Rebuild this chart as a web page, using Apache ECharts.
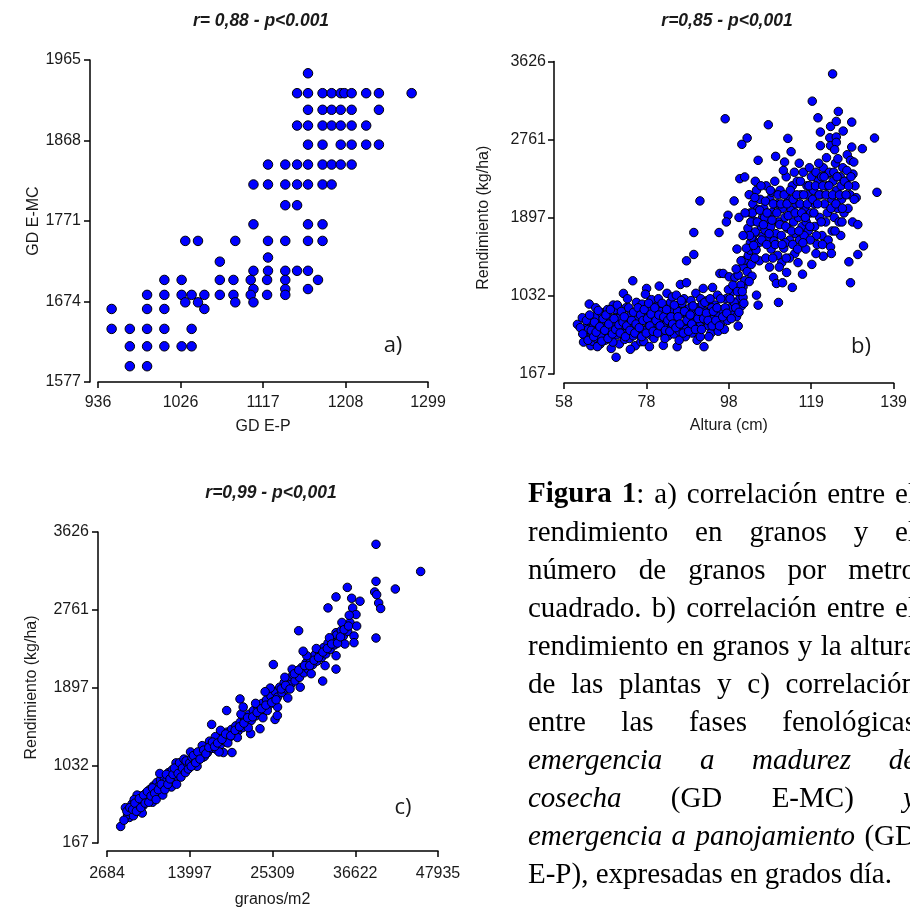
<!DOCTYPE html>
<html><head><meta charset="utf-8">
<script src="https://cdn.jsdelivr.net/npm/echarts@6/dist/echarts.min.js"></script>
<style>html,body{margin:0;padding:0;background:#fff;overflow:hidden}#c{width:910px;height:909px}</style>
</head><body><div id="c"></div>
<script>
// ---------- data ----------
const aTitle = 'r= 0,88 - p<0.001';
const bTitle = 'r=0,85 - p<0,001';
const cTitle = 'r=0,99 - p<0,001';
const aXTicks = [936, 1026, 1117, 1208, 1299];
const aYTicks = [1577, 1674, 1771, 1868, 1965];
const bXTicks = [58, 78, 98, 119, 139];
const bYTicks = [167, 1032, 1897, 2761, 3626];
const cXTicks = [2684, 13997, 25309, 36622, 47935];
const cYTicks = [167, 1032, 1897, 2761, 3626];
const aXName = 'GD E-P', aYName = 'GD E-MC';
const bXName = 'Altura (cm)', bYName = 'Rendimiento (kg/ha)';
const cXName = 'granos/m2', cYName = 'Rendimiento (kg/ha)';
const panelTags = ['a)', 'b)', 'c)'];

const aData = [
[1167,1949],
[1155,1925],[1167,1925],[1183,1925],[1193,1925],[1203,1925],[1207,1925],[1215,1925],[1231,1925],[1245,1925],[1281,1925],
[1167,1905],[1183,1905],[1193,1905],[1203,1905],[1215,1905],[1245,1905],
[1155,1886],[1167,1886],[1183,1886],[1193,1886],[1203,1886],[1215,1886],[1231,1886],
[1167,1863],[1183,1863],[1203,1863],[1215,1863],[1231,1863],[1245,1863],
[1123,1839],[1142,1839],[1155,1839],[1167,1839],[1183,1839],[1193,1839],[1203,1839],[1215,1839],
[1107,1815],[1123,1815],[1142,1815],[1155,1815],[1167,1815],[1183,1815],[1193,1815],
[1142,1790],[1155,1790],
[1107,1767],[1167,1767],[1183,1767],
[1032,1747],[1046,1747],[1087,1747],[1123,1747],[1142,1747],[1167,1747],[1183,1747],
[1123,1727],
[1070,1722],
[1107,1711],[1123,1711],[1142,1711],[1155,1711],[1167,1711],
[1009,1700],[1028,1700],[1070,1700],[1085,1700],[1104,1700],[1122,1700],[1142,1700],[1178,1700],
[1107,1689],[1142,1689],[1167,1689],
[990,1682],[1009,1682],[1028,1682],[1039,1682],[1053,1682],[1070,1682],[1085,1682],[1104,1682],[1122,1682],[1142,1682],
[1032,1673],[1046,1673],[1087,1673],[1107,1673],
[951,1665],[990,1665],[1009,1665],[1053,1665],
[951,1641],[971,1641],[990,1641],[1009,1641],[1039,1641],
[971,1620],[990,1620],[1009,1620],[1028,1620],[1039,1620],
[971,1596],[990,1596]
];

const bData = [
[61.3,716],[62.5,790],[63.0,640],[63.4,560],[63.8,700],[64.2,941],[64.4,620],[64.6,480],[64.8,750],[65.0,530],[63.2,600],[64.0,660],[65.2,690],[62.8,520],[64.9,590],
[65.6,800],[66.0,560],[66.3,650],[66.6,720],[66.9,500],[67.2,845],[67.5,610],[67.8,760],[68.1,540],[68.4,680],[68.7,880],[66.2,470],[67.0,580],[68.9,620],[65.8,900],[67.7,700],
[69.2,790],[69.5,560],[69.8,660],[70.1,930],[70.4,720],[70.8,352],[71.0,600],[71.3,840],[71.6,500],[71.9,760],[72.2,680],[72.6,1059],[72.9,550],[70.6,880],[69.6,450],[72.4,620],[71.2,780],[70.0,520],
[73.2,900],[73.5,640],[73.8,760],[74.1,560],[74.5,830],[74.9,1199],[75.2,700],[75.5,480],[75.8,960],[76.1,610],[76.4,870],[76.7,740],[73.6,1000],[74.3,440],[75.0,590],[76.0,800],[74.7,680],[76.9,525],
[77.2,940],[77.6,525],[77.9,800],[78.3,1114],[78.6,680],[78.9,870],[79.2,600],[79.5,990],[79.8,740],[80.1,560],[80.4,850],[80.7,700],[78.0,1050],[79.0,470],[80.9,920],[77.5,650],[79.6,780],[80.2,640],
[81.2,1000],[81.4,1140],[81.7,780],[82.0,630],[82.4,484],[82.7,900],[83.0,720],[83.3,1060],[83.6,590],[83.9,820],[84.2,960],[84.5,680],[84.8,880],[81.9,860],[82.8,560],[83.8,750],[84.6,1020],[85.0,610],
[85.3,760],[85.8,469],[86.1,920],[86.4,640],[86.6,1158],[86.9,840],[87.2,700],[87.5,1000],[87.8,580],[88.1,1177],[88.4,800],[88.7,890],[85.6,1040],[86.3,540],[87.0,950],[88.0,660],[88.9,740],[85.9,860],
[89.2,980],[89.5,620],[89.8,860],[90.1,740],[90.4,1060],[90.7,540],[91.0,900],[91.3,700],[91.6,1000],[91.9,800],[92.2,1114],[92.4,469],[92.7,860],[89.9,680],[90.6,820],[91.5,580],[92.0,940],[92.9,760],
[93.2,980],[93.5,700],[93.8,860],[94.1,620],[94.5,1125],[94.8,780],[95.1,930],[95.4,680],[95.7,1040],[96.0,820],[96.3,1280],[96.6,740],[97.1,1280],[93.6,580],[94.3,900],[95.9,640],[96.8,880],[97.4,661],
[97.8,1000],[98.2,760],[98.6,1243],[98.9,900],[99.3,1080],[99.6,820],[100.0,1235],[100.4,801],[100.8,1261],[100.8,698],[101.2,1000],[101.6,920],[102.0,1015],[102.0,1133],[102.4,1200],[98.4,1100],[99.8,960],[101.4,1150],
[62.0,680],[62.6,610],[63.5,760],[63.9,540],[64.3,820],[64.7,650],[65.3,580],[65.5,740],[65.9,630],[66.4,870],[66.8,690],[67.3,530],[67.6,780],[68.0,650],[68.3,820],[68.8,560],[69.0,720],[69.4,880],[69.9,610],[70.3,780],[70.7,660],[71.1,930],[71.5,710],[71.8,620],[72.1,860],[72.5,740],[72.8,800],[73.1,580],[73.4,700],[73.9,900],[74.2,650],[74.6,760],[75.1,850],[75.4,620],[75.7,720],[76.2,900],[76.5,680],[76.8,820],[77.1,580],[77.4,760],[77.7,880],[78.2,620],[78.5,780],[78.8,950],[79.1,700],[79.4,830],[79.9,640],[80.3,900],[80.6,760],[81.0,620],[81.3,820],[81.6,700],[82.1,950],[82.5,800],[82.9,650],[83.2,880],[83.5,760],[84.0,640],[84.3,800],[84.7,720],[85.1,930],[85.5,680],[86.0,800],[86.5,720],[86.8,980],[87.3,620],[87.6,860],[88.2,760],[88.6,640],[89.0,820],[89.4,720],[89.7,920],[90.3,660],[90.9,780],[91.2,860],[91.8,660],[92.3,780],[92.6,960],[93.0,840],[93.4,760],[93.9,1000],[94.4,700],[94.7,860],[95.3,760],[95.6,900],[96.2,700],[96.5,1000],[97.0,800],[97.6,900],[98.0,840],[98.8,1000],[99.1,780],[99.5,1150],[100.2,900],[100.6,1080],[101.0,850],[101.8,1080],[102.2,950],
[102.0,1353],[102.4,1427],[103.0,1300],[103.3,1480],[103.7,1538],[104.0,1380],[104.5,1648],[104.2,1250],[105.0,1560],[103.5,1190],[105.3,1040],[105.7,929],[104.8,1720],[103.8,1620],[102.8,1560],[101.5,1420],[100.3,1330],
[103.2,1780],[103.5,2152],[103.8,1950],[104.1,1680],[104.4,2050],[104.7,1860],[105.0,1740],[105.3,2200],[105.6,1990],[105.9,1620],[106.2,2100],[106.5,1800],[106.8,1900],[103.9,1850],[105.2,1540],[106.0,1420],[104.6,1590],[106.9,1700],
[107.1,2000],[107.4,1760],[107.7,2250],[108.0,1650],[108.2,2926],[108.3,1880],[108.6,2100],[108.9,1550],[109.2,1960],[109.5,1235],[109.8,2300],[110.0,2576],[110.2,1169],[110.1,1720],[110.4,2050],[110.7,959],[110.8,1850],[107.6,1450],[108.5,1350],[109.0,2180],[109.6,1640],[110.5,1480],[107.3,1900],[108.8,1800],
[111.1,2200],[111.4,1700],[111.7,1177],[111.7,2000],[112.0,1560],[112.2,2513],[112.3,1900],[112.6,2350],[112.7,1291],[112.9,1780],[113.0,2775],[113.2,2100],[113.5,1650],[113.8,2628],[113.8,1980],[114.1,1125],[114.1,2250],[114.4,1850],[114.7,1500],[115.0,2050],[111.5,1400],[112.4,1620],[113.4,1450],[114.9,1720],[111.9,2420],[114.6,2400],
[115.3,2300],[115.6,1900],[115.9,1650],[116.2,2150],[116.5,1800],[116.6,1272],[116.8,2400],[117.1,2000],[117.4,1550],[117.7,2250],[118.0,1750],[118.3,2450],[118.6,1950],[118.9,1380],[115.5,1400],[116.0,2050],[117.0,1700],[117.9,2150],[118.8,2350],[115.8,2500],[117.5,1850],[119.0,3187],
[119.3,2200],[119.6,1800],[119.9,2400],[120.2,1600],[120.4,3003],[120.5,2300],[120.8,1900],[121.0,2845],[121.0,2694],[121.1,2150],[121.4,1700],[121.7,1471],[121.7,2450],[122.0,2050],[122.3,1850],[122.5,2561],[122.6,2250],[122.9,1650],[119.5,2050],[120.0,1700],[121.3,2350],[122.8,2380],[120.6,2500],
[123.2,2400],[123.3,2782],[123.5,1574],[123.5,2694],[123.5,2907],[123.7,1501],[123.8,2100],[124.0,3489],[124.1,2300],[124.4,1900],[124.7,2500],[124.9,2963],[124.9,2790],[124.9,2731],[125.0,2200],[125.3,2550],[125.4,3073],[125.6,1850],[125.9,2350],[126.2,2100],[126.6,2856],[126.5,2450],[126.8,1950],[123.9,1750],[125.2,2000],[126.0,1700],[124.5,2650],
[127.2,2300],[127.6,2594],[127.8,2000],[128.0,1409],[128.4,2532],[128.4,1177],[128.7,2955],[128.7,2679],[128.3,2150],[128.9,1850],[129.2,2513],[129.5,2250],[129.8,2119],[130.2,1821],[130.2,1490],[131.3,2661],[131.6,1585],[134.3,2779],[134.9,2178],[129.0,2380],[127.5,2420],
[104.3,1950],[104.9,2120],[105.5,1850],[106.1,1980],[106.6,1650],[107.0,1820],[107.5,2080],[107.9,1950],[108.4,1720],[108.7,2200],[109.1,1870],[109.4,2050],[109.9,1600],[110.3,1950],[110.6,2150],[111.0,1820],[111.3,2050],[111.6,1600],[112.1,2150],[112.5,1800],[112.8,2050],[113.1,1920],[113.6,2200],[113.9,1750],[114.3,2100],[114.8,1950],[115.2,2150],[115.7,1750],[116.1,2300],[116.4,1950],[116.9,2150],[117.3,1900],[117.8,2050],[118.2,2250],[118.5,1650],[119.1,2100],[119.4,1950],[119.8,2250],[120.3,2050],[120.7,2150],[121.2,1850],[121.6,2250],[121.9,2350],[122.4,2150],[122.7,1950],[123.1,2250],[123.6,2000],[124.0,2150],[124.3,2400],[124.8,2050],[125.1,2350],[125.7,2150],[126.1,2250],[126.4,2000],[126.9,2300],[127.3,2150],[127.9,2250],[128.5,2350],[129.3,2100],[105.0,2300],[106.4,2250],[107.8,1600],[109.3,1450],[110.9,1350],[112.6,1450],[114.2,1600],[115.4,1550],[116.7,1620],[118.4,1800],[119.9,1500],[121.5,1600],[124.6,1750],[126.3,1850],[103.6,1700],[104.9,1450],
[97.6,2992],[91.4,2083],[89.9,1733],[89.9,1490],[88.1,1420],[96.1,1733],[99.8,2083],[98.3,1924],[97.9,1850],[101.2,2329],[102.4,2348],[101.7,2709],[103.0,2779],[105.7,2532],[101.0,1900],[100.5,1550],[102.0,1700],[102.5,1950]
];

const cData = [
[4553,351],[5737,451],[5500,480],[6000,520],[6300,470],[6100,600],[6600,560],[6900,640],[7000,520],[7200,600],[7400,690],[7600,580],[7800,650],[8000,720],[8100,620],[8300,690],[8500,760],[8600,650],[8800,720],[9000,800],[9100,690],[9300,760],[9500,840],[9600,720],[9800,800],[10000,870],[10200,760],[10400,830],[10500,900],[10700,800],[10900,870],[11100,950],[11200,830],[11400,910],[11600,980],[11800,880],[12000,950],[12117,1058],[12300,900],[12500,990],[12700,940],[12900,1040],[13100,960],[13300,1020],[6800,700],[7500,500],[8900,620],[10300,700],[11500,790],[5200,560],[6400,650],[9900,940],[12200,820],
[5000,420],[5400,520],[5800,560],[6200,540],[6500,610],[6700,520],[7100,660],[7300,560],[7700,700],[7900,610],[8200,740],[8400,620],[8700,690],[8900,780],[9200,720],[9400,650],[9700,760],[10100,820],[10600,760],[10800,930],[11000,820],[11300,880],[11700,930],[11900,1000],[12400,940],[12600,1060],[12800,900],[13000,1000],[13200,1100],[13400,950],[13700,1050],
[13500,1080],[13800,990],[14000,1060],[14300,1120],[14600,1050],[14900,1150],[15200,1090],[15500,1180],[15800,1120],[16100,1240],[16400,1170],[16700,1300],[16993,1486],[17000,1220],[17300,1290],[17600,1210],[17900,1330],[18200,1260],[18588,1173],[18500,1370],[18800,1300],[19043,1640],[19100,1400],[19400,1340],[19773,1173],[19700,1430],[20000,1380],[20300,1470],[20600,1410],[20866,1769],[20900,1510],[21200,1450],[21500,1550],[21800,1490],[22100,1600],[22325,1383],[22400,1530],[22700,1640],[23000,1580],[23300,1680],[23601,1438],[23600,1620],[23900,1720],[24200,1660],[24500,1760],[24800,1700],[25100,1800],[25424,2152],[25400,1740],[25652,1541],[25700,1850],[25971,1585],[26000,1790],[26300,1900],[26600,1840],[26900,1950],[27200,1880],[27500,1990],[27800,1930],[28100,2040],[28400,1970],[28700,2080],[28887,2528],[29000,2010],[29300,2120],[29600,2060],[29900,2170],[30200,2100],[30500,2210],[30800,2150],[31100,2260],[31400,2190],[31700,2300],[32000,2230],[32168,1968],[32300,2340],[32600,2270],[32896,2782],[32900,2390],[33200,2320],[33500,2440],[33800,2370],[33990,2506],[33990,2101],[33990,2904],[34100,2480],[34400,2420],[34700,2530],[35000,2470],[35300,2580],[35539,3010],[35600,2520],[35900,2620],[36133,2889],[36270,2782],[36452,2469],[36452,2395],[36726,2708],[36816,2580],[37272,2856],[39458,3489],[45565,3187],[39458,3077],[42101,2992],[39277,2959],[39550,2929],[39823,2837],[40097,2775],[39458,2447],
[14100,1180],[15000,1020],[16000,1130],[17500,1350],[18000,1180],[19200,1280],[20500,1340],[21000,1600],[22000,1450],[23000,1720],[24000,1560],[24600,1640],[25000,1890],[26000,1680],[27000,2010],[27400,1780],[28000,2100],[29100,1900],[30000,2250],[30600,2050],[31300,2330],[32500,2140],[33100,2450],[34000,2250],[34800,2620],[35200,2380],[35800,2700],[29500,2300],[24300,1850],[21300,1680],[18200,1420],[15700,1250],
[14200,1020],[14500,1140],[14800,1060],[15100,1180],[15400,1100],[15900,1200],[16200,1160],[16600,1230],[17100,1290],[17400,1240],[17800,1280],[18400,1320],[18900,1380],[19600,1360],[20200,1420],[20800,1460],[21400,1500],[21900,1560],[22600,1570],[23200,1620],[23800,1660],[24400,1700],[25200,1730],[25800,1760],[26500,1880],[27100,1920],[27700,1880],[28300,2050],[28900,2090],[29700,2140],[30400,2140],[31000,2200],[31600,2230],[32200,2290],[32800,2330],[33400,2380],[34200,2390],[34600,2460],[35100,2540],[35700,2580]
];

const captionLines = [
  ['**Figura', '**1|:', 'a)', 'correlación', 'entre', 'el'],
  ['rendimiento', 'en', 'granos', 'y', 'el'],
  ['número', 'de', 'granos', 'por', 'metro'],
  ['cuadrado.', 'b)', 'correlación', 'entre', 'el'],
  ['rendimiento', 'en', 'granos', 'y', 'la', 'altura'],
  ['de', 'las', 'plantas', 'y', 'c)', 'correlación'],
  ['entre', 'las', 'fases', 'fenológicas'],
  ['_emergencia', '_a', '_madurez', '_de'],
  ['_cosecha', '(GD', 'E-MC)', '_y'],
  ['_emergencia', '_a', '_panojamiento', '(GD'],
  ['E-P),', 'expresadas', 'en', 'grados', 'día.']
];

// ---------- helpers ----------
const SANS = '"Liberation Sans", Arial, sans-serif';
const SERIF = '"Liberation Serif", "Times New Roman", serif';
const TXT = '#1a1a1a';

function mkAxis(gi, ticks, extra, lblMargin) {
  const n = ticks.length, lo = ticks[0], hi = ticks[n - 1], step = (hi - lo) / (n - 1);
  const pos = ticks.map((t, i) => lo + i * step);
  return Object.assign({
    type: 'value', gridIndex: gi, min: lo, max: hi,
    splitLine: { show: false },
    axisLine: { show: true, onZero: false, lineStyle: { color: '#000', width: 1.5 } },
    axisTick: { show: true, customValues: pos, length: 6, lineStyle: { color: '#000', width: 1.5 } },
    axisLabel: { customValues: pos, showMinLabel: true, showMaxLabel: true,
      formatter: v => String(ticks[Math.round((v - lo) / step)]),
      color: TXT, fontSize: 16, fontFamily: SANS, margin: lblMargin },
    nameLocation: 'middle',
    nameTextStyle: { color: TXT, fontSize: 16, fontFamily: SANS }
  }, extra);
}

const dotStyle = { color: '#0000ff', borderColor: '#000', borderWidth: 1, opacity: 1 };
function mkSeries(idx, data, size) {
  return { type: 'scatter', xAxisIndex: idx, yAxisIndex: idx, data: data,
    symbol: 'circle', symbolSize: size, itemStyle: dotStyle, silent: true };
}

// caption layout (justified)
const measCtx = document.createElement('canvas').getContext('2d');
const CAP_SIZE = 29, CAP_L = 528, CAP_R = 916, CAP_Y0 = 495, CAP_DY = 38;
function runFont(style) {
  return (style === 'i' ? 'italic ' : '') + (style === 'b' ? 'bold ' : '') + CAP_SIZE + 'px ' + SERIF;
}
function parseWord(w) {
  let style = 'n';
  if (w.startsWith('**')) { style = 'b'; w = w.slice(2); }
  else if (w.startsWith('_')) { style = 'i'; w = w.slice(1); }
  return w.split('|').map((t, k) => ({ text: t, style: k === 0 ? style : 'n' }));
}
function widthOf(run) { measCtx.font = runFont(run.style); return measCtx.measureText(run.text).width; }

const captionEls = [];
captionLines.forEach((line, li) => {
  const words = line.map(parseWord);
  const widths = words.map(runs => runs.reduce((s, r) => s + widthOf(r), 0));
  const total = widths.reduce((s, v) => s + v, 0);
  const last = li === captionLines.length - 1;
  measCtx.font = runFont('n');
  const gap = last ? measCtx.measureText(' ').width : (CAP_R - CAP_L - total) / (words.length - 1);
  let x = CAP_L;
  const y = CAP_Y0 + li * CAP_DY;
  words.forEach(runs => {
    runs.forEach(r => {
      captionEls.push({ type: 'text', x: x, y: y, silent: true,
        style: { text: r.text, font: runFont(r.style), fill: '#000', textAlign: 'left', textVerticalAlign: 'middle' } });
      x += widthOf(r);
    });
    x += gap;
  });
});

function label(text, x, y, font) {
  return { type: 'text', x: x, y: y, silent: true,
    style: { text: text, font: font, fill: TXT, textAlign: 'center', textVerticalAlign: 'middle' } };
}

const titleFont = 'italic bold 17.5px ' + SANS;
const tagFont = '22px "Open Sans", sans-serif';

const option = {
  animation: false,
  backgroundColor: '#fff',
  grid: [
    { left: 98, top: 60, width: 330, height: 322 },
    { left: 564, top: 61.5, width: 330, height: 312.5 },
    { left: 107, top: 532, width: 331, height: 313 }
  ],
  xAxis: [
    mkAxis(0, aXTicks, { name: aXName, nameGap: 37, offset: 0 }, 13),
    mkAxis(1, bXTicks, { name: bXName, nameGap: 35, offset: 9 }, 12),
    mkAxis(2, cXTicks, { name: cXName, nameGap: 41, offset: 8 }, 15)
  ],
  yAxis: [
    mkAxis(0, aYTicks, { name: aYName, nameGap: 45, offset: 8 }, 9),
    mkAxis(1, bYTicks, { name: bYName, nameGap: 62, offset: 10 }, 8),
    mkAxis(2, cYTicks, { name: cYName, nameGap: 58, offset: 9 }, 9)
  ],
  series: [
    mkSeries(0, aData, 9.5),
    mkSeries(1, bData, 8.5),
    mkSeries(2, cData, 8.5)
  ],
  graphic: [
    label(aTitle, 261, 21, titleFont),
    label(bTitle, 727, 21, titleFont),
    label(cTitle, 271, 493, titleFont),
    label(panelTags[0], 393, 346, tagFont),
    label(panelTags[1], 861, 347, tagFont),
    label(panelTags[2], 403, 808, tagFont)
  ].concat(captionEls)
};

const chart = echarts.init(document.getElementById('c'), null, { renderer: 'canvas', width: 910, height: 909 });
chart.setOption(option);
</script>
</body></html>
